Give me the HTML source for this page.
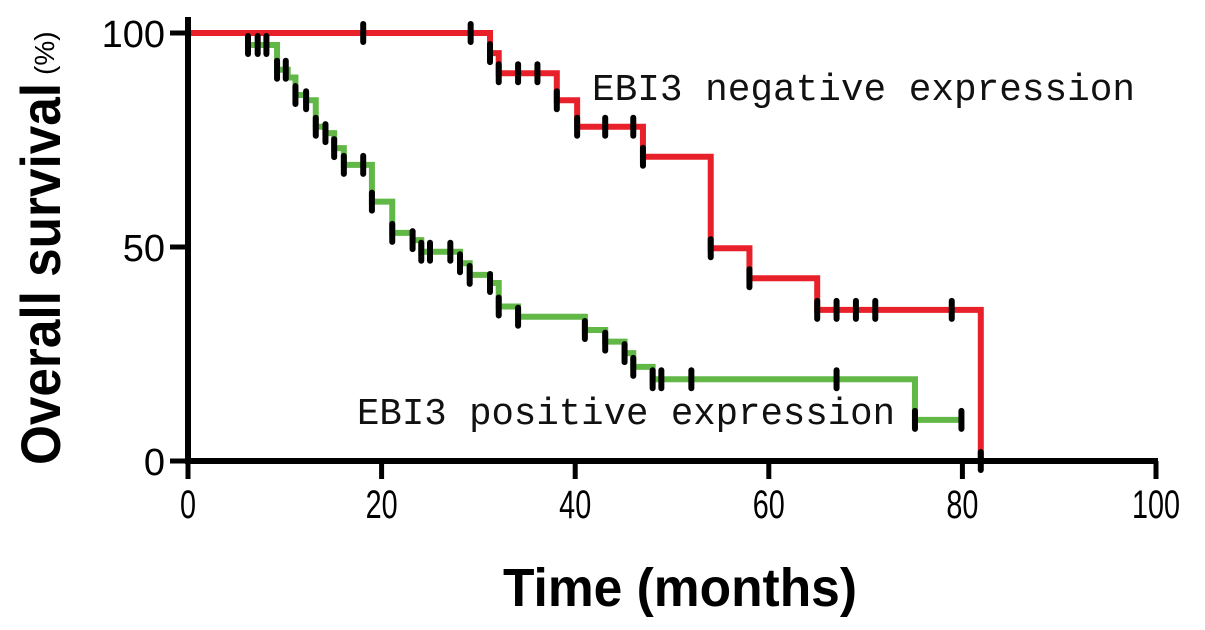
<!DOCTYPE html>
<html><head><meta charset="utf-8"><style>
html,body{margin:0;padding:0;background:#fff;}
svg{display:block;}
</style></head><body>
<svg id="chart" width="1205" height="630" viewBox="0 0 1205 630" xmlns="http://www.w3.org/2000/svg">
<g id="plot"></g>
<g id="axes"></g>
<text x="592" y="100" font-family="Liberation Mono, monospace" font-size="38" textLength="543" lengthAdjust="spacingAndGlyphs" fill="#111">EBI3 negative expression</text>
<text x="357" y="424" font-family="Liberation Mono, monospace" font-size="38" textLength="538" lengthAdjust="spacingAndGlyphs" fill="#111">EBI3 positive expression</text>
<text x="680" y="606" text-anchor="middle" font-family="Liberation Sans, sans-serif" font-weight="bold" font-size="54" textLength="354" lengthAdjust="spacingAndGlyphs" fill="#000">Time (months)</text>
<g transform="translate(60,465) rotate(-90)">
<text x="0" y="0" font-family="Liberation Sans, sans-serif" font-weight="bold" font-size="56" textLength="382" lengthAdjust="spacingAndGlyphs" fill="#000">Overall survival</text>
<text x="390" y="-6" font-family="Liberation Sans, sans-serif" font-size="28" fill="#000">(%)</text>
</g>
</svg>
<script>
const xTicks=[0,20,40,60,80,100];
const yTicks=[0,50,100];
const negTimes=[0,31.2,32.1,38.1,40.2,47.0,54.0,58.0,65.0,81.9];
const negSurv=[100,95.3,90.6,84.3,78.1,71.1,49.7,42.7,35.3,0];
const negEnd=81.9;
const negCensor=[18.1,29.2,31.2,32.1,34.1,36.1,38.1,40.2,43.1,46.0,47.0,54.0,58.0,65.0,67.0,69.0,71.0,78.9,81.9];
const posTimes=[0,6.2,9.2,10.3,11.1,12.2,13.2,14.2,15.1,16.1,19.0,21.1,23.2,24.1,28.1,29.1,31.2,32.1,34.1,41.0,43.1,45.1,46.0,48.0,75.1];
const posSurv=[100,97.2,91.4,89.6,85.5,84.3,78.1,76.6,73.1,69.2,60.6,53.3,51.6,48.9,46.2,43.5,41.6,36.1,33.7,30.6,27.9,25.2,22.0,19.1,9.6];
const posEnd=79.9;
const posCensor=[6.2,7.2,8.1,9.2,10.1,11.1,12.2,13.2,14.2,15.1,16.1,18.1,19.0,21.1,23.2,24.1,25.0,27.1,28.1,29.1,31.2,32.1,34.1,41.0,43.1,45.1,46.0,48.0,48.9,52.0,67.0,75.1,79.9];

const X0=188,X1=1156,Y0=461,Y1=33;
const sx=v=>X0+(X1-X0)*v/100;
const sy=v=>Y0-(Y0-Y1)*v/100;
const NS='http://www.w3.org/2000/svg';
const plot=document.getElementById('plot'),axes=document.getElementById('axes');
function mk(tag,attrs,parent){const e=document.createElementNS(NS,tag);for(const k in attrs)e.setAttribute(k,attrs[k]);parent.appendChild(e);return e;}
function stepPath(ts,ss,end){let d='M'+sx(ts[0])+','+sy(ss[0]);for(let i=1;i<ts.length;i++){d+=' H'+sx(ts[i])+' V'+sy(ss[i]);}if(end>ts[ts.length-1])d+=' H'+sx(end);return d;}
function survAt(ts,ss,t){let v=ss[0];for(let i=0;i<ts.length;i++){if(ts[i]<=t+0.05)v=ss[i];}return v;}

const gp=mk('path',{d:stepPath(posTimes,posSurv,posEnd),fill:'none',stroke:'#62b846','stroke-width':6},plot);


const rp=mk('path',{d:stepPath(negTimes,negSurv,negEnd),fill:'none',stroke:'#e8202a','stroke-width':6},plot);



posCensor.forEach(t=>{const y=sy(survAt(posTimes,posSurv,t));const l=mk('line',{x1:sx(t),x2:sx(t),y1:y-9,y2:y+9,stroke:'#000','stroke-width':6,'stroke-linecap':'round'},plot);

});
negCensor.forEach(t=>{const y=sy(survAt(negTimes,negSurv,t));const l=mk('line',{x1:sx(t),x2:sx(t),y1:y-9,y2:y+9,stroke:'#000','stroke-width':6,'stroke-linecap':'round'},plot);

});

const ya=mk('line',{x1:X0,x2:X0,y1:17,y2:Y0+3,stroke:'#000','stroke-width':6},axes);


const xa=mk('line',{x1:X0-3,x2:X1+2,y1:Y0,y2:Y0,stroke:'#000','stroke-width':6},axes);


xTicks.forEach(v=>{const t=mk('line',{x1:sx(v),x2:sx(v),y1:Y0,y2:Y0+18,stroke:'#000','stroke-width':5},axes);


const tx=mk('text',{x:sx(v),y:518,'text-anchor':'middle','font-family':'Liberation Sans, sans-serif','font-size':40,fill:'#000',transform:'translate('+sx(v)+',0) scale(0.72,1) translate('+(-sx(v))+',0)'},axes);
tx.textContent=String(v);

});
yTicks.forEach(v=>{const t=mk('line',{x1:X0-18,x2:X0,y1:sy(v),y2:sy(v),stroke:'#000','stroke-width':5},axes);


const tx=mk('text',{x:165,y:sy(v)+14,'text-anchor':'end','font-family':'Liberation Sans, sans-serif','font-size':38,fill:'#000'},axes);
tx.textContent=String(v);

});
</script>
</body></html>
